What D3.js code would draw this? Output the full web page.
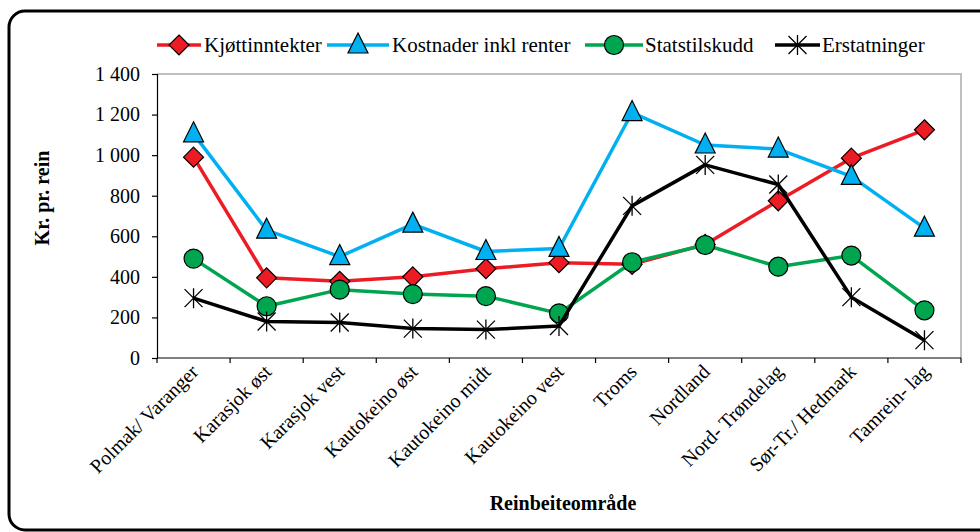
<!DOCTYPE html>
<html>
<head>
<meta charset="utf-8">
<script src="https://cdn.jsdelivr.net/npm/d3@7"></script>
<style>
  body { margin: 0; background: #fff; }
  svg { display: block; }
</style>
</head>
<body>
<svg width="980" height="532"></svg>
<script>
var categories = ["Polmak/ Varanger", "Karasjok øst", "Karasjok vest", "Kautokeino øst",
  "Kautokeino midt", "Kautokeino vest", "Troms", "Nordland", "Nord- Trøndelag",
  "Sør-Tr./ Hedmark", "Tamrein- lag"];

var kjott = [990, 395, 378, 400, 440, 470, 462, 560, 775, 985, 1125];
var kostnader = [1105, 630, 500, 660, 525, 540, 1210, 1050, 1030, 895, 640];
var statstilskudd = [490, 255, 337, 315, 305, 220, 472, 557, 450, 505, 235];
var erstatninger = [295, 180, 175, 145, 140, 158, 750, 952, 855, 300, 88];

var yTicks = [0, 200, 400, 600, 800, 1000, 1200, 1400];

var series = [
  { name: "Kjøttinntekter", values: kjott, color: "#ed1c24", marker: "diamond" },
  { name: "Kostnader inkl renter", values: kostnader, color: "#00b0f0", marker: "triangle" },
  { name: "Statstilskudd", values: statstilskudd, color: "#00a550", marker: "circle" },
  { name: "Erstatninger", values: erstatninger, color: "#000000", marker: "star" }
];

var svg = d3.select("svg");
var plotLeft = 157, plotRight = 961, plotTop = 74, plotBottom = 358;
var serif = "'Liberation Serif', 'Times New Roman', Times, 'DejaVu Serif', serif";

// outer rounded frame (runs off the right and bottom edges)
svg.append("rect")
  .attr("x", 9).attr("y", 11)
  .attr("width", 1000).attr("height", 519)
  .attr("rx", 16)
  .attr("fill", "none")
  .attr("stroke", "#000")
  .attr("stroke-width", 3);

var x = d3.scaleBand().domain(categories).range([plotLeft, plotRight]);
var y = d3.scaleLinear().domain([0, 1400]).range([plotBottom, plotTop]);

// plot area border (top and right in grey)
svg.append("path")
  .attr("d", "M" + plotLeft + "," + plotTop + "H" + plotRight + "V" + plotBottom)
  .attr("fill", "none")
  .attr("stroke", "#bfbfbf")
  .attr("stroke-width", 2);

// y axis
var yAxis = svg.append("g")
  .attr("transform", "translate(" + plotLeft + ",0)")
  .call(d3.axisLeft(y).tickValues(yTicks).tickSize(5).tickPadding(12)
    .tickFormat(function (d) { return d3.format(",")(d).replace(",", " "); }));
yAxis.select(".domain").attr("stroke", "#000").attr("stroke-width", 1.2);
yAxis.selectAll(".tick line").attr("stroke", "#000").attr("stroke-width", 1.2);
yAxis.selectAll("text")
  .attr("font-family", serif)
  .attr("font-size", 20)
  .attr("fill", "#000");

// x axis: ticks on category boundaries
var bounds = categories.map(function (c) { return x(c); }).concat([plotRight]);
svg.append("line")
  .attr("x1", plotLeft).attr("x2", plotRight)
  .attr("y1", plotBottom).attr("y2", plotBottom)
  .attr("stroke", "#000").attr("stroke-width", 1.2);
svg.selectAll(".xtick")
  .data(bounds)
  .enter().append("line")
  .attr("class", "xtick")
  .attr("x1", function (d) { return d; })
  .attr("x2", function (d) { return d; })
  .attr("y1", plotBottom).attr("y2", plotBottom + 5)
  .attr("stroke", "#000").attr("stroke-width", 1.2);

svg.selectAll(".xlabel")
  .data(categories)
  .enter().append("text")
  .attr("class", "xlabel")
  .attr("text-anchor", "end")
  .attr("font-family", serif)
  .attr("font-size", 20)
  .attr("transform", function (d) {
    return "translate(" + (x(d) + x.bandwidth() / 2 + 6) + "," + (plotBottom + 15) + ") rotate(-45)";
  })
  .text(function (d) { return d; });

// axis titles
svg.append("text")
  .attr("x", 563).attr("y", 510)
  .attr("text-anchor", "middle")
  .attr("font-family", serif)
  .attr("font-weight", "bold")
  .attr("font-size", 20)
  .text("Reinbeiteområde");

svg.append("text")
  .attr("transform", "translate(49,198) rotate(-90)")
  .attr("text-anchor", "middle")
  .attr("font-family", serif)
  .attr("font-weight", "bold")
  .attr("font-size", 20)
  .text("Kr. pr. rein");

function drawMarker(g, type, color) {
  if (type === "diamond") {
    g.append("path").attr("d", "M0,-10L10,0L0,10L-10,0Z")
      .attr("fill", color).attr("stroke", "#000").attr("stroke-width", 1.2);
  } else if (type === "triangle") {
    g.append("path").attr("d", "M0,-12L10,8L-10,8Z")
      .attr("fill", color).attr("stroke", "#000").attr("stroke-width", 1.2);
  } else if (type === "circle") {
    g.append("circle").attr("r", 9.5)
      .attr("fill", color).attr("stroke", "#000").attr("stroke-width", 1.2);
  } else {
    g.append("path").attr("d", "M0,-10V10M-9,-9L9,9M-9,9L9,-9")
      .attr("stroke", "#000").attr("stroke-width", 1.3).attr("fill", "none");
  }
}

var line = d3.line()
  .x(function (d, i) { return x(categories[i]) + x.bandwidth() / 2; })
  .y(function (d) { return y(d); });

series.forEach(function (s) {
  var g = svg.append("g");
  g.append("path")
    .datum(s.values)
    .attr("d", line)
    .attr("fill", "none")
    .attr("stroke", s.color)
    .attr("stroke-width", 3.5)
    .attr("stroke-linejoin", "round");
  g.selectAll(".pt")
    .data(s.values)
    .enter().append("g")
    .attr("transform", function (d, i) {
      return "translate(" + (x(categories[i]) + x.bandwidth() / 2) + "," + y(d) + ")";
    })
    .each(function () { drawMarker(d3.select(this), s.marker, s.color); });
});

// legend
var legendPos = [
  { line: [157, 201], text: 204 },
  { line: [327, 389], text: 392 },
  { line: [585, 643], text: 645 },
  { line: [775, 820], text: 822 }
];
var ly = 45;
series.forEach(function (s, i) {
  var p = legendPos[i];
  var g = svg.append("g");
  g.append("line")
    .attr("x1", p.line[0]).attr("x2", p.line[1])
    .attr("y1", ly).attr("y2", ly)
    .attr("stroke", s.color).attr("stroke-width", 3.5);
  var m = g.append("g").attr("transform", "translate(" + ((p.line[0] + p.line[1]) / 2) + "," + ly + ")");
  drawMarker(m, s.marker, s.color);
  g.append("text")
    .attr("x", p.text).attr("y", ly + 7)
    .attr("font-family", serif)
    .attr("font-size", 21)
    .text(s.name);
});
</script>
</body>
</html>
